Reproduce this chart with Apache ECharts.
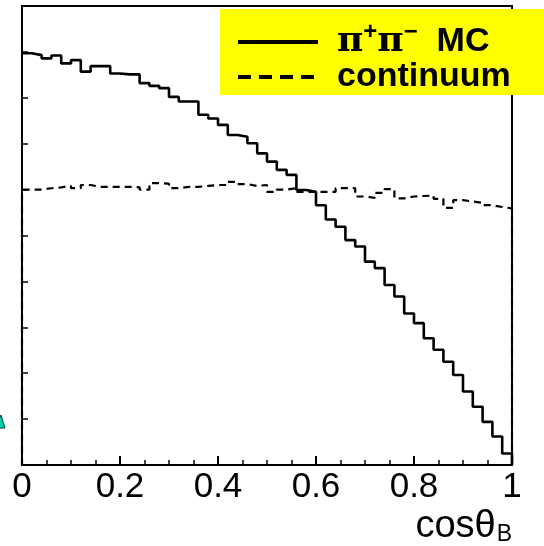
<!DOCTYPE html>
<html>
<head>
<meta charset="utf-8">
<script src="https://cdn.jsdelivr.net/npm/echarts@6/dist/echarts.min.js"></script>
<style>
  html, body { margin: 0; padding: 0; background: #fff; }
  #chart { width: 544px; height: 546px; }
</style>
</head>
<body>
<div id="chart"></div>
<script>
// Histogram bin contents (50 bins of width 0.02 over cosθ_B in [0,1]), arbitrary units
const binWidth = 0.02;
const pipiMC = [
  8.97, 8.93, 8.86, 8.92, 8.75, 8.82, 8.57, 8.69, 8.69, 8.53,
  8.51, 8.51, 8.32, 8.26, 8.21, 8.02, 7.92, 7.92, 7.63, 7.55,
  7.41, 7.19, 7.15, 7.01, 6.79, 6.61, 6.43, 6.32, 5.99, 5.95,
  5.66, 5.35, 5.19, 4.90, 4.76, 4.43, 4.29, 3.92, 3.67, 3.30,
  3.09, 2.76, 2.51, 2.25, 1.96, 1.60, 1.27, 0.94, 0.62, 0.25
];
const continuum = [
  6.00, 6.00, 6.03, 6.05, 6.08, 6.03, 6.10, 6.06, 6.06, 6.06,
  6.06, 6.05, 6.00, 6.14, 6.13, 6.03, 6.06, 6.06, 6.08, 6.10,
  6.10, 6.17, 6.12, 6.08, 6.10, 5.95, 6.00, 6.03, 5.95, 5.95,
  5.95, 5.95, 6.03, 6.03, 5.85, 5.82, 5.93, 6.01, 5.81, 5.85,
  5.86, 5.87, 5.80, 5.60, 5.77, 5.74, 5.71, 5.66, 5.62, 5.59
];
const xTicks = [0, 0.2, 0.4, 0.6, 0.8, 1];
const seriesNames = ['π⁺π⁻ MC', 'continuum'];

const binEdges = pipiMC.map((_, i) => +(i * binWidth).toFixed(2));

function histPoints(vals, closeLeft) {
  const pts = closeLeft ? [[0, 0]] : [];
  vals.forEach((v, i) => pts.push([binEdges[i], v]));
  pts.push([1, vals[vals.length - 1]]);
  pts.push([1, 0]);
  return pts;
}

const chart = echarts.init(document.getElementById('chart'), null, { renderer: 'canvas' });
const font = 'Liberation Sans, Arial, Helvetica, sans-serif';

chart.setOption({
  animation: false,
  backgroundColor: '#ffffff',
  grid: {
    left: 22, right: 32, top: 6, bottom: 81,
    show: true, borderColor: '#000', borderWidth: 2, backgroundColor: 'transparent'
  },
  xAxis: {
    type: 'value', min: 0, max: 1, interval: 0.2,
    axisLine: { show: true, lineStyle: { color: '#000', width: 2 } },
    axisTick: { show: true, inside: true, length: 9, lineStyle: { color: '#000', width: 2 } },
    minorTick: { show: true, splitNumber: 4, length: 5, lineStyle: { color: '#000', width: 1.5 } },
    splitLine: { show: false },
    axisLabel: {
      color: '#000', fontSize: 35, fontFamily: font, margin: 5,
      formatter: v => { const t = xTicks.find(x => Math.abs(x - v) < 1e-9); return t === undefined ? '' : String(t); }
    },
    name: '{n|cosθ}{s|B}',
    nameLocation: 'end',
    nameGap: 0,
    nameTextStyle: {
      align: 'right', verticalAlign: 'top', padding: [42, 0, 0, 0],
      rich: {
        n: { fontSize: 38, fontFamily: font, color: '#000' },
        s: { fontSize: 23, fontFamily: font, color: '#000', padding: [16, 0, 0, 1] }
      }
    }
  },
  yAxis: {
    type: 'value', min: 0, max: 10, interval: 1,
    axisLine: { show: true, lineStyle: { color: '#000', width: 2 } },
    axisTick: { show: true, inside: true, length: 6, lineStyle: { color: '#000', width: 1.5 } },
    axisLabel: { show: false },
    splitLine: { show: false }
  },
  legend: {
    orient: 'vertical',
    left: 231, top: 15,
    itemWidth: 80, itemHeight: 14, itemGap: 0,
    z: 20,
    selectedMode: false,
    data: [
      { name: seriesNames[0], lineStyle: { width: 4, type: 'solid' } },
      { name: seriesNames[1], lineStyle: { width: 4, type: [13, 8] } }
    ],
    itemStyle: { opacity: 0 },
    textStyle: {
      color: '#000', fontSize: 34, fontWeight: 'bold', fontFamily: font,
      lineHeight: 34, padding: [0, 0, 0, 14],
      rich: {
        pi: { fontSize: 36, fontWeight: 'bold', fontFamily: 'DejaVu Serif, serif', color: '#000' },
        sup: { fontSize: 24, fontWeight: 'bold', fontFamily: font, color: '#000', padding: [0, 0, 20, 0] },
        b: { fontSize: 34, fontWeight: 'bold', fontFamily: font, color: '#000' }
      }
    },
    formatter: name => name === seriesNames[0]
      ? '{pi|π}{sup|+}{pi|π}{sup|−}  {b|MC}'
      : '{b|' + name + '}'
  },
  graphic: [
    {
      type: 'rect', z: 15, silent: true,
      shape: { x: 220, y: 9, width: 330, height: 86 },
      style: { fill: '#ffff00' }
    },
    {
      type: 'polygon', z: 15, silent: true,
      shape: { points: [[-5, 428], [1, 415], [5, 428]] },
      style: { fill: '#00d0b0', stroke: '#004040', lineWidth: 1 }
    }
  ],
  series: [
    {
      name: seriesNames[0], type: 'line', step: 'end', symbol: 'none',
      data: histPoints(pipiMC, false),
      lineStyle: { color: '#000', width: 2.6, type: 'solid' },
      itemStyle: { color: '#000' },
      z: 3
    },
    {
      name: seriesNames[1], type: 'line', step: 'end', symbol: 'none',
      data: histPoints(continuum, true),
      lineStyle: { color: '#000', width: 2.2, type: [7, 5] },
      itemStyle: { color: '#000' },
      z: 3
    }
  ]
});
</script>
</body>
</html>
